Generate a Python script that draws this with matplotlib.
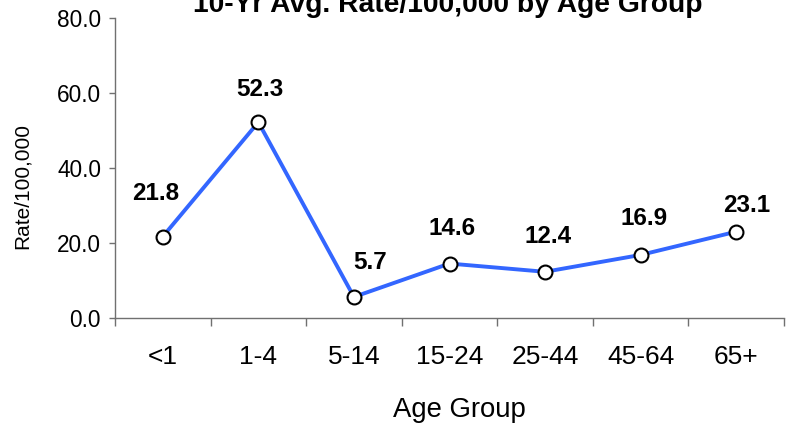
import numpy as np
import matplotlib
matplotlib.use("Agg")
import matplotlib.pyplot as plt

plt.rcParams["font.family"] = ["Liberation Sans", "DejaVu Sans"]

age_groups = ["<1", "1-4", "5-14", "15-24", "25-44", "45-64", "65+"]
rates = [21.8, 52.3, 5.7, 14.6, 12.4, 16.9, 23.1]

# label offsets in pixels (dx, dy), like the excel placement
label_dx = [-7, 2, 16, 3, 3, 3, 10]
label_dy = [43, 33, 34, 35, 35, 36, 26]

W, H = 791, 426
fig = plt.figure(figsize=(W / 100, H / 100), dpi=100)
ax = fig.add_axes([115 / W, 1 - 318.3 / H, (784 - 115) / W, (318.3 - 18.3) / H])

x = np.arange(len(age_groups))
ax.plot(x, rates, color="#3366FF", lw=2.8, marker="o", ms=10,
        mfc="white", mec="black", mew=1.5, zorder=3)

for i, r in enumerate(rates):
    ax.annotate(f"{r:.1f}", (x[i], r), xytext=(label_dx[i] * 0.72, label_dy[i] * 0.72),
                textcoords="offset points", ha="center", va="center",
                fontsize=17.5, fontweight="bold", color="black")

ax.set_xlim(-0.5, len(age_groups) - 0.5)
ax.set_ylim(0, 80)
ax.set_yticks([0, 20, 40, 60, 80])
ax.set_yticklabels([f"{v:.1f}" for v in [0, 20, 40, 60, 80]], fontsize=16.3)
ax.set_xticks(x)
ax.set_xticklabels(age_groups, fontsize=19)
ax.set_xticks(np.arange(-0.5, len(age_groups)), minor=True)
ax.tick_params(axis="x", which="major", length=0, pad=19)
ax.tick_params(axis="x", which="minor", length=5.5, width=1, color="#707070")
ax.tick_params(axis="y", length=4, width=1, color="#707070", pad=6)

for s in ["top", "right"]:
    ax.spines[s].set_visible(False)
for s in ["left", "bottom"]:
    ax.spines[s].set_color("#707070")
    ax.spines[s].set_linewidth(1)

fig.text(22 / W, 1 - 186 / H, "Rate/100,000", rotation=90, ha="center", va="center", fontsize=15)
fig.text(459.5 / W, 1 - 417 / H, "Age Group", ha="center", va="baseline", fontsize=19.8)
fig.text(448 / W, 1 - 12 / H, "10-Yr Avg. Rate/100,000 by Age Group", ha="center",
         va="baseline", fontsize=20.3, fontweight="bold")

fig.savefig("out.png", dpi=100)
